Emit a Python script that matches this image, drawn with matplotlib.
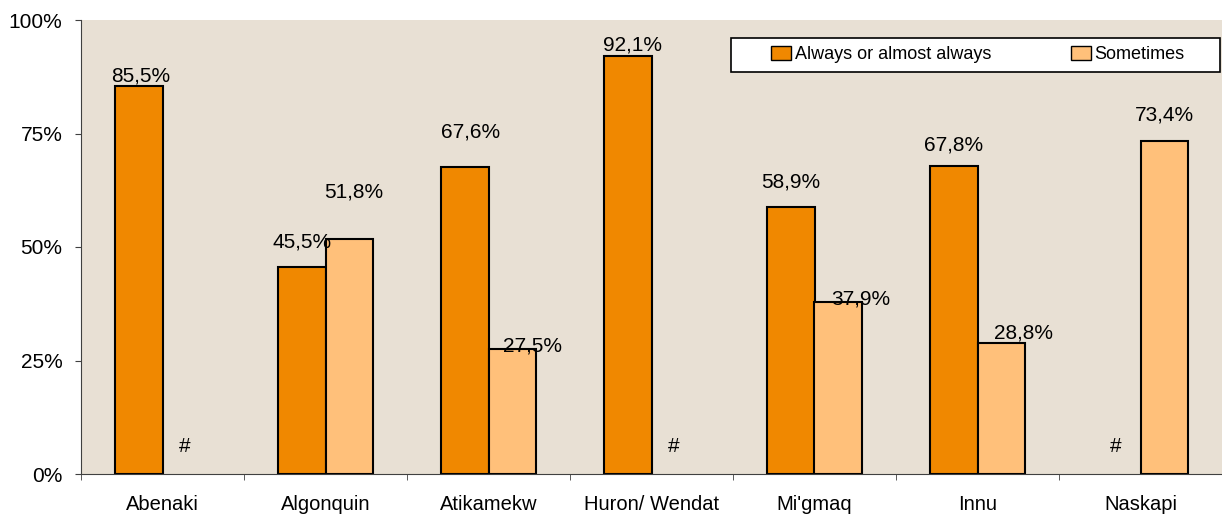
import matplotlib.pyplot as plt
import numpy as np
from matplotlib.patches import Patch, Rectangle

plt.rcParams["font.family"] = ["Liberation Sans", "DejaVu Sans"]

NATIONS = ["Abenaki", "Algonquin", "Atikamekw", "Huron/ Wendat", "Mi'gmaq", "Innu", "Naskapi"]
# nan = value suppressed (shown as "#")
ALWAYS = [85.5, 45.5, 67.6, 92.1, 58.9, 67.8, np.nan]
SOMETIMES = [np.nan, 51.8, 27.5, np.nan, 37.9, 28.8, 73.4]

# label nudges in points (dx, dy): baseline offset from top-centre of each bar
ALWAYS_NUDGE = [(1.4, 3), (0, 14.4), (4.3, 21), (3, 3.6), (0, 13.7), (0, 11.5), (0, 0)]
SOMETIMES_NUDGE = [(0, 0), (3.6, 30), (15, -1.4), (0, 0), (16, -2.2), (16, 3.6), (0, 14.4)]

COLORS = {
    "always": "#f08800",
    "sometimes": "#ffc07a",
    "bg": "#e8e0d4",
    "axis": "#404040",
}
FS = 15


def main():
    fig = plt.figure(figsize=(12.22, 5.16), dpi=100)
    ax = fig.add_axes([81 / 1222, 42 / 516, 1141 / 1222, 454 / 516])
    ax.set_facecolor(COLORS["bg"])

    x = np.arange(len(NATIONS))
    w = 0.29
    always = np.array(ALWAYS)
    some = np.array(SOMETIMES)

    ax.bar(x - w / 2, np.nan_to_num(always), w, color=COLORS["always"], edgecolor="black", lw=1.5, zorder=2)
    ax.bar(x + w / 2, np.nan_to_num(some), w, color=COLORS["sometimes"], edgecolor="black", lw=1.5, zorder=2)
    # hide zero-height bars for suppressed values
    for p, v in zip(ax.patches, np.concatenate([always, some])):
        if np.isnan(v):
            p.set_visible(False)

    for vals, nudges, off in ((always, ALWAYS_NUDGE, -w / 2), (some, SOMETIMES_NUDGE, w / 2)):
        for i, (v, (dx, dy)) in enumerate(zip(vals, nudges)):
            if np.isnan(v):
                ax.text(i + off - 0.01, 6, "#", ha="center", va="center", fontsize=FS)
                continue
            ax.annotate(f"{v:.1f}%".replace(".", ","), (i + off, v), xytext=(dx, dy),
                        textcoords="offset points", ha="center", va="baseline", fontsize=FS, zorder=3)

    ax.set_xlim(-0.5, len(NATIONS) - 0.5)
    ax.set_ylim(0, 100)
    ax.set_yticks([0, 25, 50, 75, 100])
    ax.set_yticklabels(["0%", "25%", "50%", "75%", "100%"], fontsize=FS)
    ax.set_xticks(x)
    ax.set_xticklabels(NATIONS, fontsize=FS - 0.5)
    ax.set_xticks(np.arange(-0.5, len(NATIONS), 1), minor=True)
    ax.tick_params(axis="x", which="major", length=0, pad=15)
    ax.tick_params(axis="x", which="minor", length=4.5, color=COLORS["axis"])
    ax.tick_params(axis="y", length=4.5, color=COLORS["axis"], pad=9)
    ax.spines[["top", "right"]].set_visible(False)
    ax.spines["left"].set_color(COLORS["axis"])
    ax.spines["bottom"].set_color(COLORS["axis"])

    # legend box drawn by hand so it can be wider than its entries
    ax.add_patch(Rectangle((0.5697, 0.885), 0.4283, 0.075, transform=ax.transAxes,
                           facecolor="white", edgecolor="black", lw=1.2, zorder=4))
    handles = [
        Patch(facecolor=COLORS["always"], edgecolor="black", label="Always or almost always"),
        Patch(facecolor=COLORS["sometimes"], edgecolor="black", label="Sometimes"),
    ]
    leg = ax.legend(handles=handles, loc="center", bbox_to_anchor=(0.786, 0.923), ncol=2,
                    fontsize=13, frameon=False, handlelength=1.1, handleheight=0.78,
                    handletextpad=0.22, columnspacing=4.4, borderpad=0, borderaxespad=0)
    leg.set_zorder(5)

    fig.savefig("out.png", dpi=100, facecolor="white")


if __name__ == "__main__":
    main()
